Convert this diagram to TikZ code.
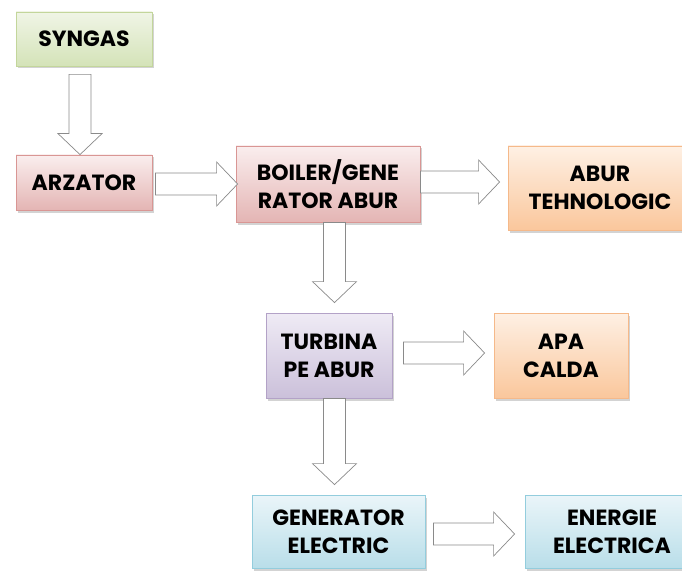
\documentclass[tikz,border=0pt]{standalone}
\usepackage{fontspec}
\setmainfont{Poppins}[BoldFont={Poppins Bold}]
\usetikzlibrary{shadows,calc}
\definecolor{grnT}{HTML}{F0F5E6}\definecolor{grnB}{HTML}{D4E3B8}\definecolor{grnD}{HTML}{C3D69B}
\definecolor{pnkT}{HTML}{FAEEEE}\definecolor{pnkB}{HTML}{E4B5B4}\definecolor{pnkD}{HTML}{D99694}
\definecolor{orgT}{HTML}{FEF0E4}\definecolor{orgB}{HTML}{FAC79C}\definecolor{orgD}{HTML}{F5B98A}
\definecolor{purT}{HTML}{EFEBF5}\definecolor{purB}{HTML}{CBC0DA}\definecolor{purD}{HTML}{B3A2C7}
\definecolor{bluT}{HTML}{EAF5F9}\definecolor{bluB}{HTML}{B9DEE9}\definecolor{bluD}{HTML}{93CDDD}
\definecolor{arrG}{HTML}{8A8A8A}
\tikzset{
  box/.style={draw, line width=0.8pt, align=center, inner sep=0pt,
    font=\fontsize{22}{28}\selectfont\bfseries, text=black,
    drop shadow={opacity=0.35, shadow xshift=2pt, shadow yshift=-2.5pt}},
  gbox/.style={box, draw=grnD, top color=grnT, bottom color=grnB},
  pbox/.style={box, draw=pnkD, top color=pnkT, bottom color=pnkB},
  obox/.style={box, draw=orgD, top color=orgT, bottom color=orgB},
  ubox/.style={box, draw=purD, top color=purT, bottom color=purB},
  bbox/.style={box, draw=bluD, top color=bluT, bottom color=bluB},
  blockarrow/.style={draw=arrG, fill=white, line width=0.7pt, line join=miter}
}
% horizontal block arrow from #1 to #2 (same height taken from #1)
\newcommand\harrow[2]{%
  \path let \p1=#1, \p2=#2 in [blockarrow]
    (\x1,{\y1-11pt}) -- ({\x2-21pt},{\y1-11pt}) -- ({\x2-21pt},{\y1-22pt}) -- (\x2,\y1)
    -- ({\x2-21pt},{\y1+22pt}) -- ({\x2-21pt},{\y1+11pt}) -- (\x1,{\y1+11pt}) -- cycle;}
% vertical (downward) block arrow from #1 to #2 (same x taken from #1)
\newcommand\varrow[2]{%
  \path let \p1=#1, \p2=#2 in [blockarrow]
    ({\x1-11pt},\y1) -- ({\x1-11pt},{\y2+21pt}) -- ({\x1-22pt},{\y2+21pt}) -- (\x1,\y2)
    -- ({\x1+22pt},{\y2+21pt}) -- ({\x1+11pt},{\y2+21pt}) -- ({\x1+11pt},\y1) -- cycle;}
\begin{document}
\begin{tikzpicture}[x=1pt,y=-1pt]
\useasboundingbox (0,0) rectangle (682,572);
\node[gbox, minimum width=136pt, minimum height=54pt] (syn) at (84,39) {SYNGAS};
\node[pbox, minimum width=136pt, minimum height=55pt] (arz) at (84,182.5) {ARZATOR};
\node[pbox, minimum width=184pt, minimum height=76pt] (boil) at (328,184) {BOILER/GENE\\RATOR ABUR};
\node[obox, minimum width=184pt, minimum height=84pt] (abur) at (600,188) {ABUR\\TEHNOLOGIC};
\node[ubox, minimum width=126pt, minimum height=85pt] (turb) at (329,355.5) {TURBINA\\PE ABUR};
\node[obox, minimum width=134pt, minimum height=85pt] (apa) at (561,355.5) {APA\\CALDA};
\node[bbox, minimum width=173pt, minimum height=73pt] (gen) at (338.5,531.5) {GENERATOR\\ELECTRIC};
\node[bbox, minimum width=174pt, minimum height=73pt] (ener) at (612,531.5) {ENERGIE\\ELECTRICA};
% connectors
\varrow{($(syn.south)+(-4,8)$)}{($(arz.north)$)}
\harrow{($(arz.east)+(3,1.5)$)}{($(boil.west)+(2,0)$)}
\harrow{($(boil.east)+(0,-2)$)}{($(abur.west)+(-8,0)$)}
\varrow{($(boil.south)+(6.5,0)$)}{($(turb.north)+(0,-10)$)}
\harrow{($(turb.east)+(11,-2.5)$)}{($(apa.west)+(-9,0)$)}
\varrow{($(turb.south)+(5.5,0)$)}{($(gen.north)+(0,-10)$)}
\harrow{($(gen.east)+(8,2.5)$)}{($(ener.west)+(-10,0)$)}
\end{tikzpicture}
\end{document}
